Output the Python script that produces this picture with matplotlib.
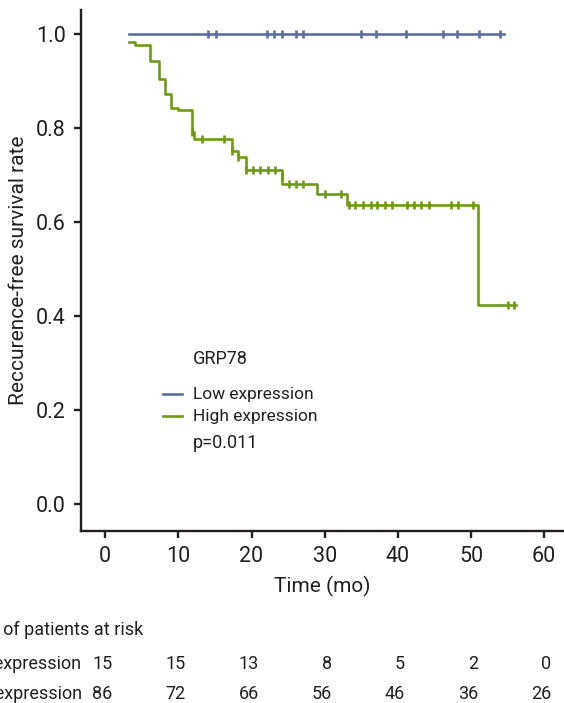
import matplotlib
matplotlib.use('Agg')
import matplotlib.pyplot as plt
import matplotlib.transforms as mtransforms
from matplotlib.lines import Line2D
import numpy as np

plt.rcParams['font.family'] = ['Roboto', 'DejaVu Sans']

# low expression (blue)
low_t = [3.3, 54.5]
low_s = [1.0, 1.0]
low_cens = [14.1, 15.2, 22.1, 23.1, 24.1, 26.1, 27.1, 35.0, 37.0, 41.1,
            46.1, 48.1, 51.1, 54.0]

# high expression (green)
high_t = [3.3, 4.1, 6.1, 7.3, 8.2, 9.0, 10.0, 11.9, 12.1, 17.3, 18.2, 19.2,
          24.1, 24.2, 29.0, 33.0, 51.0, 56.2]
high_s = [0.983, 0.977, 0.943, 0.904, 0.872, 0.843, 0.838, 0.791, 0.777,
          0.752, 0.739, 0.711, 0.699, 0.681, 0.659, 0.636, 0.423, 0.423]
high_cens = [11.9, 13.3, 16.2, 17.3, 18.2, 19.2, 20.2, 21.2, 22.2, 23.2,
             24.1, 25.1, 26.1, 27.1, 30.1, 32.2, 33.3, 34.2, 35.3, 36.3,
             37.2, 38.2, 39.2, 41.2, 42.2, 43.2, 44.2, 47.2, 48.2, 50.3,
             55.0, 55.9]

risk_times = [0, 10, 20, 30, 40, 50, 60]
risk_low = [15, 15, 13, 8, 5, 2, 0]
risk_high = [86, 72, 66, 56, 46, 36, 26]

blue = '#5a6fa2'
green = '#6f9b12'
dark = '#231f20'

W, H = 564, 703
fig = plt.figure(figsize=(W / 100, H / 100), dpi=100)
ax = fig.add_axes([81 / W, 1 - 531 / H, 1 - 81 / W, (531 - 10) / H])


def level_at(ts, ss, c):
    idx = np.searchsorted(ts, c, side='right') - 1
    return np.array(ss)[idx]


for ts, ss, cens, col in [(low_t, low_s, low_cens, blue),
                          (high_t, high_s, high_cens, green)]:
    ax.step(ts, ss, where='post', color=col, lw=1.9)
    ax.plot(cens, level_at(ts, ss, cens), '|', color=col, ms=6, mew=1.9)

ax.set_xlim(-3.3, 62.7)
ax.set_ylim(-0.057, 1.051)
ax.set_xticks(np.arange(0, 61, 10))
ax.set_yticks(np.arange(0, 1.01, 0.2))
ax.set_yticklabels(['%.1f' % v for v in np.arange(0, 1.01, 0.2)])
for s in ['top', 'right']:
    ax.spines[s].set_visible(False)
for s in ['left', 'bottom']:
    ax.spines[s].set_linewidth(1.7)
    ax.spines[s].set_color(dark)
ax.tick_params(direction='out', length=5, width=1.7, color=dark,
               labelsize=15.5, labelcolor=dark, pad=6)
ax.set_xlabel('Time (mo)', fontsize=15, color=dark, labelpad=6)
ax.set_ylabel('Reccurence-free survival rate', fontsize=15, color=dark, labelpad=6)

# legend
fig.text(193 / W, 1 - 359 / H, 'GRP78', fontsize=13, va='center', color=dark)
fig.add_artist(Line2D([163 / W, 182 / W], [1 - 394 / H] * 2, color=blue, lw=1.9))
fig.add_artist(Line2D([163 / W, 182 / W], [1 - 416 / H] * 2, color=green, lw=1.9))
fig.text(193 / W, 1 - 395 / H, 'Low expression', fontsize=12.5, va='center', color=dark)
fig.text(193 / W, 1 - 416 / H, 'High expression', fontsize=12.5, va='center', color=dark)
fig.text(193 / W, 1 - 443 / H, 'p=0.011', fontsize=13, va='center', color=dark)

# number at risk
fig.text(143 / W, 1 - 630 / H, 'No. of patients at risk', fontsize=13,
         ha='right', va='center', color=dark)
fig.text(81 / W, 1 - 664 / H, 'Low expression', fontsize=13,
         ha='right', va='center', color=dark)
fig.text(82 / W, 1 - 694 / H, 'High expression', fontsize=13,
         ha='right', va='center', color=dark)
tr = mtransforms.blended_transform_factory(ax.transData, fig.transFigure)
for t, a, b in zip(risk_times, risk_low, risk_high):
    ax.text(t + 1.0, 1 - 664 / H, str(a), transform=tr, fontsize=13,
            ha='right', va='center', color=dark, clip_on=False)
    ax.text(t + 1.0, 1 - 694 / H, str(b), transform=tr, fontsize=13,
            ha='right', va='center', color=dark, clip_on=False)

fig.savefig('out.png', dpi=100)
